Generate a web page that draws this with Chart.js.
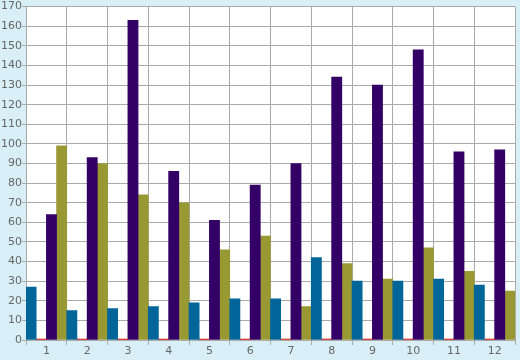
<!DOCTYPE html>
<html>
<head>
<meta charset="utf-8">
<script src="https://cdn.jsdelivr.net/npm/chart.js@4/dist/chart.umd.min.js"></script>
<style>
  html, body { margin: 0; padding: 0; background: #d9eff7; }
  #wrap { width: 520px; height: 360px; }
</style>
</head>
<body>
<div id="wrap"><canvas id="chart"></canvas></div>
<script>
// data
var categories = ['1','2','3','4','5','6','7','8','9','10','11','12'];
var tealValues   = [27, 15, 16, 17, 19, 21, 21, 42, 30, 30, 31, 28];
var redValues    = [0.5, 0.5, 0.5, 0.5, 0.5, 0.5, 0.5, 0.5, 0.5, 0.5, 0.5, 0.5];
var purpleValues = [64, 93, 163, 86, 61, 79, 90, 134, 130, 148, 96, 97];
var oliveValues  = [99, 90, 74, 70, 46, 53, 17, 39, 31, 47, 35, 25];
var yMin = 0, yMax = 170, yStep = 10;

var plotBg = {
	id: 'plotBg',
	beforeDraw: function(chart) {
		var a = chart.chartArea, c = chart.ctx;
		c.save();
		c.fillStyle = '#ffffff';
		c.fillRect(a.left, a.top, a.right - a.left, a.bottom - a.top);
		c.restore();
	}
};

function ds(label, data, color) {
	return {
		label: label,
		data: data,
		backgroundColor: color,
		borderWidth: 0,
		categoryPercentage: 1,
		barPercentage: 1
	};
}

var ctx = document.getElementById('chart');
new Chart(ctx, {
	type: 'bar',
	data: {
		labels: categories,
		datasets: [
			ds('A', tealValues, '#006699'),
			ds('B', redValues, '#cc0000'),
			ds('C', purpleValues, '#330066'),
			ds('D', oliveValues, '#999933')
		]
	},
	plugins: [plotBg],
	options: {
		responsive: true,
		maintainAspectRatio: false,
		animation: false,
		layout: { padding: { top: 5, right: 5, left: 0, bottom: 0 } },
		plugins: {
			legend: { display: false },
			tooltip: { enabled: false }
		},
		scales: {
			x: {
				afterFit: function(s) { s.height = 20; },
				grid: { color: '#aaaaaa', lineWidth: 1, tickLength: 5, offset: true },
				border: { color: '#aaaaaa' },
				ticks: { color: '#666666', font: { family: 'DejaVu Sans', size: 11 }, padding: 0, maxRotation: 0 }
			},
			y: {
				min: yMin,
				max: yMax,
				afterFit: function(s) { s.width = 26; },
				grid: { color: '#aaaaaa', lineWidth: 1, tickLength: 4 },
				border: { color: '#aaaaaa' },
				ticks: { stepSize: yStep, color: '#666666', font: { family: 'DejaVu Sans', size: 11 }, padding: 0 }
			}
		}
	}
});
</script>
</body>
</html>
